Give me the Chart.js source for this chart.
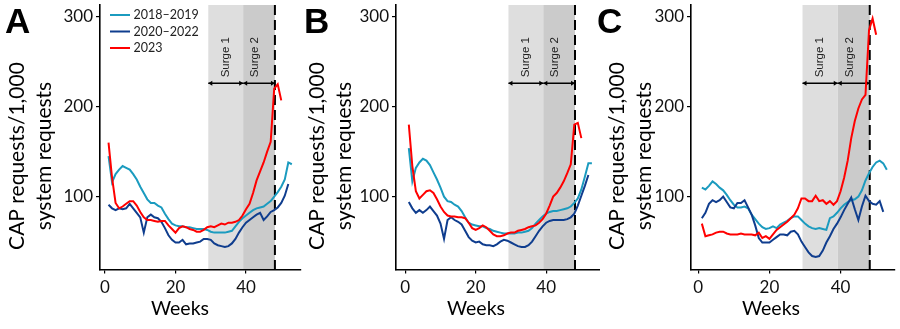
<!DOCTYPE html>
<html>
<head>
<meta charset="utf-8">
<title>CAP requests per 1,000 system requests</title>
<script src="https://cdn.jsdelivr.net/npm/chart.js@4.4.1/dist/chart.umd.min.js"></script>
<style>
  body { margin: 0; background: #fff; }
  #wrap { position: relative; width: 900px; height: 329px; overflow: hidden; }
  canvas { position: absolute; top: 0; }
  .letter { position: absolute; top: 3px; font: bold 35px "Liberation Sans", Arial, sans-serif; line-height: 35px; color: #000; }
</style>
</head>
<body>
<div id="wrap">
  <canvas id="chartA" width="302" height="329" style="left:0px"></canvas>
  <canvas id="chartB" width="300" height="329" style="left:300px"></canvas>
  <canvas id="chartC" width="300" height="329" style="left:600px"></canvas>
  <div class="letter" style="left:5px">A</div>
  <div class="letter" style="left:304px">B</div>
  <div class="letter" style="left:597px">C</div>
</div>
<script>
// --- data ---
const weeks = [1, 2, 3, 4, 5, 6, 7, 8, 9, 10, 11, 12, 13, 14, 15, 16, 17, 18, 19, 20,
  21, 22, 23, 24, 25, 26, 27, 28, 29, 30, 31, 32, 33, 34, 35, 36, 37, 38, 39, 40,
  41, 42, 43, 44, 45, 46, 47, 48, 49, 50, 51, 52, 53];

const seriesNames = ['2018\u20132019', '2020\u20132022', '2023'];
const seriesColors = ['#1b9bbf', '#0f3d8e', '#ff0000'];

const xTickValues = [0, 20, 40];
const yTickValues = [100, 200, 300];
const xTitle = 'Weeks';
const yTitleLines = ['CAP requests/1,000', 'system requests'];

const surgeNames = ['Surge 1', 'Surge 2'];
const surgeBounds = [29.3, 39.2, 48.2];   // start of surge 1, switch, end of surge 2 (weeks)
const surgeLabelWeeks = [34.2, 42.6];
const surgeLabelLevel = 255;
const arrowLevel = 226;

// panel A
const aHist1819 = [145, 116, 125, 130, 134, 132, 130, 125, 119, 111, 104, 97, 93, 93, 90, 88, 81, 75, 70, 68,
  67, 67, 66, 66, 65, 64, 64, 64, 63, 61, 60, 60, 60, 60, 61, 62, 67, 72, 76, 79,
  82, 85, 87, 88, 89, 92, 95, 100, 105, 111, 119, 138, 136];
const aHist2022 = [91, 87, 85, 87, 86, 87, 92, 87, 82, 77, 60, 77, 80, 77, 76, 72, 65, 57, 52, 49,
  49, 52, 47, 48, 48, 49, 50, 53, 53, 52, 48, 46, 45, 44, 45, 48, 53, 60, 66, 71,
  74, 77, 80, 82, 74, 78, 83, 85, 88, 93, 101, 114];
const a2023 = [160, 121, 93, 87, 89, 92, 95, 95, 90, 83, 77, 74, 74, 73, 72, 73, 73, 68, 64, 60,
  65, 67, 66, 64, 63, 61, 61, 63, 66, 67, 66, 68, 70, 69, 71, 71, 72, 74, 79, 86,
  92, 104, 118, 128, 138, 150, 161, 220, 225, 207];

// panel B
const bHist1819 = [154, 117, 132, 138, 142, 140, 135, 127, 119, 110, 100, 95, 94, 91, 89, 84, 77, 71, 69, 68,
  67, 67, 65, 64, 62, 61, 60, 59, 59, 59, 59, 60, 60, 61, 62, 65, 70, 74, 78, 81,
  83, 84, 84, 85, 86, 87, 89, 93, 98, 108, 122, 137, 137];
const bHist2022 = [94, 87, 82, 85, 82, 85, 89, 84, 79, 70, 53, 74, 77, 74, 72, 69, 62, 55, 51, 49,
  50, 47, 46, 46, 45, 47, 50, 52, 51, 49, 47, 45, 44, 44, 46, 50, 56, 62, 67, 71,
  73, 74, 74, 74, 74, 75, 77, 81, 90, 101, 112, 124];
const b2023 = [180, 134, 106, 98, 102, 106, 107, 104, 97, 89, 83, 79, 78, 78, 77, 77, 76, 71, 65, 63,
  65, 68, 66, 62, 58, 56, 56, 57, 59, 60, 60, 62, 63, 64, 66, 67, 68, 71, 75, 81,
  90, 100, 104, 110, 117, 126, 136, 180, 182, 165];

// panel C
const cHist1819 = [110, 108, 112, 117, 114, 110, 107, 102, 96, 91, 88, 88, 89, 87, 80, 75, 70, 66, 64, 65,
  67, 65, 69, 71, 73, 76, 78, 78, 74, 70, 67, 65, 64, 65, 64, 63, 76, 78, 82, 87,
  91, 94, 96, 97, 100, 107, 118, 126, 133, 138, 140, 137, 130];
const cHist2022 = [76, 82, 92, 96, 94, 96, 100, 94, 88, 87, 93, 93, 96, 88, 80, 68, 54, 49, 49, 49,
  52, 55, 58, 58, 57, 61, 62, 58, 50, 44, 38, 34, 33, 34, 40, 49, 56, 64, 70, 77,
  85, 92, 99, 86, 74, 89, 101, 95, 92, 91, 95, 83];
const c2023 = [70, 56, 57, 58, 60, 61, 61, 59, 58, 58, 58, 59, 58, 58, 58, 57, 60, 54, 56, 53,
  58, 63, 66, 69, 72, 76, 80, 87, 98, 98, 95, 95, 101, 95, 96, 92, 95, 91, 95, 106,
  121, 140, 165, 184, 198, 208, 213, 285, 298, 280];

const toPoints = vals => vals.map((v, i) => ({ x: weeks[i], y: v }));

// shaded surge periods, dashed cut-off line, arrows and labels
const surgePlugin = {
  id: 'surges',
  beforeDraw(chart) {
    const { ctx, chartArea: a, scales: { x } } = chart;
    const p = surgeBounds.map(w => x.getPixelForValue(w));
    ctx.save();
    ctx.fillStyle = '#dedede';
    ctx.fillRect(p[0], a.top, p[1] - p[0], a.bottom - a.top);
    ctx.fillStyle = '#cbcbcb';
    ctx.fillRect(p[1], a.top, p[2] - p[1], a.bottom - a.top);
    ctx.restore();
  },
  beforeDatasetsDraw(chart) {
    const { ctx, chartArea: a, scales: { x, y } } = chart;
    const p = surgeBounds.map(w => x.getPixelForValue(w));
    ctx.save();

    // dashed line at the end of surge 2
    ctx.strokeStyle = '#000';
    ctx.lineWidth = 2;
    ctx.setLineDash([10, 5]);
    ctx.beginPath();
    ctx.moveTo(p[2], a.top);
    ctx.lineTo(p[2], a.bottom);
    ctx.stroke();
    ctx.setLineDash([]);

    // double-headed arrows for both surges
    const ay = y.getPixelForValue(arrowLevel);
    ctx.lineWidth = 1.5;
    ctx.fillStyle = '#000';
    const head = (px, dir) => {
      ctx.beginPath();
      ctx.moveTo(px, ay);
      ctx.lineTo(px - dir * 4, ay - 2.5);
      ctx.lineTo(px - dir * 4, ay + 2.5);
      ctx.closePath();
      ctx.fill();
    };
    [[p[0], p[1]], [p[1], p[2]]].forEach(([s, e]) => {
      ctx.beginPath();
      ctx.moveTo(s, ay);
      ctx.lineTo(e, ay);
      ctx.stroke();
      head(s, -1);
      head(e, 1);
    });

    // rotated surge labels
    ctx.font = '11.5px "Liberation Sans", Arial, sans-serif';
    ctx.fillStyle = '#222';
    ctx.textAlign = 'center';
    ctx.textBaseline = 'middle';
    surgeNames.forEach((name, i) => {
      ctx.save();
      ctx.translate(x.getPixelForValue(surgeLabelWeeks[i]), y.getPixelForValue(surgeLabelLevel));
      ctx.rotate(-Math.PI / 2);
      ctx.fillText(name, 0, 0);
      ctx.restore();
    });
    ctx.restore();
  }
};

// axis titles sit off-centre in the figure, so they are placed by hand
const titlePlugin = {
  id: 'axisTitles',
  afterDraw(chart) {
    const { ctx, chartArea: a } = chart;
    ctx.save();
    ctx.fillStyle = '#000';
    ctx.textAlign = 'center';
    ctx.textBaseline = 'alphabetic';
    ctx.font = '19.5px Lato, sans-serif';
    ctx.fillText(xTitle, a.left + 80, 315);
    ctx.font = '21px Lato, sans-serif';
    ctx.textBaseline = 'middle';
    yTitleLines.forEach((t, i) => {
      ctx.save();
      ctx.translate(17 + i * 27.3, 156);
      ctx.rotate(-Math.PI / 2);
      ctx.fillText(t, 0, 0);
      ctx.restore();
    });
    ctx.restore();
  }
};

// legend inside panel A
const legendPlugin = {
  id: 'cornerLegend',
  afterDraw(chart) {
    const { ctx, chartArea: a } = chart;
    ctx.save();
    ctx.font = '12.5px Lato, sans-serif';
    ctx.textBaseline = 'middle';
    ctx.lineWidth = 2;
    seriesNames.forEach((name, i) => {
      const ly = a.top + 10 + i * 16.5;
      ctx.strokeStyle = seriesColors[i];
      ctx.beginPath();
      ctx.moveTo(a.left + 10, ly);
      ctx.lineTo(a.left + 30, ly);
      ctx.stroke();
      ctx.fillStyle = '#222';
      ctx.fillText(name, a.left + 33.5, ly);
    });
    ctx.restore();
  }
};

function buildPanel(canvasId, series, opts) {
  // red on top, then dark blue, then teal
  const datasets = [2, 1, 0].map(k => ({
    label: seriesNames[k],
    data: toPoints(series[k]),
    borderColor: seriesColors[k],
    borderWidth: 2,
    pointRadius: 0,
    fill: false,
    tension: 0
  }));

  const plugins = [surgePlugin, titlePlugin];
  if (opts.legend) plugins.push(legendPlugin);

  return new Chart(document.getElementById(canvasId), {
    type: 'line',
    data: { datasets: datasets },
    plugins: plugins,
    options: {
      responsive: false,
      animation: false,
      devicePixelRatio: 1,
      layout: { padding: { top: 5, right: opts.padRight, left: 0, bottom: 0 } },
      plugins: { legend: { display: false }, tooltip: { enabled: false } },
      scales: {
        x: {
          type: 'linear',
          min: opts.xMin,
          max: opts.xMax,
          afterBuildTicks: s => { s.ticks = xTickValues.map(v => ({ value: v })); },
          afterFit: s => { s.height = 59.5; s.paddingLeft = 0; s.paddingRight = 0; },
          grid: { drawOnChartArea: false, drawTicks: true, tickLength: 4, color: '#000', lineWidth: 1.2 },
          border: { display: true, color: '#000', width: 1.6 },
          ticks: { font: { family: 'Lato', size: 17 }, color: '#111', padding: 4, maxRotation: 0 },
          title: { display: false }
        },
        y: {
          min: 19,
          max: 313,
          afterBuildTicks: s => { s.ticks = yTickValues.map(v => ({ value: v })); },
          afterFit: s => { s.width = opts.yWidth; s.paddingTop = 0; s.paddingBottom = 0; },
          grid: { drawOnChartArea: false, drawTicks: true, tickLength: 4, color: '#000', lineWidth: 1.2 },
          border: { display: true, color: '#000', width: 1.6 },
          ticks: { font: { family: 'Lato', size: 17 }, color: '#111', padding: 3 },
          title: { display: false }
        }
      }
    }
  });
}

document.addEventListener('DOMContentLoaded', function() {
  buildPanel('chartA', [aHist1819, aHist2022, a2023], { xMin: -1.42, xMax: 55.6, yWidth: 100, padRight: 1, legend: true });
  buildPanel('chartB', [bHist1819, bHist2022, b2023], { xMin: -2.64, xMax: 55.3, yWidth: 96, padRight: 0 });
  buildPanel('chartC', [cHist1819, cHist2022, c2023], { xMin: -2.05, xMax: 55.3, yWidth: 91, padRight: 5 });
});
</script>
</body>
</html>
